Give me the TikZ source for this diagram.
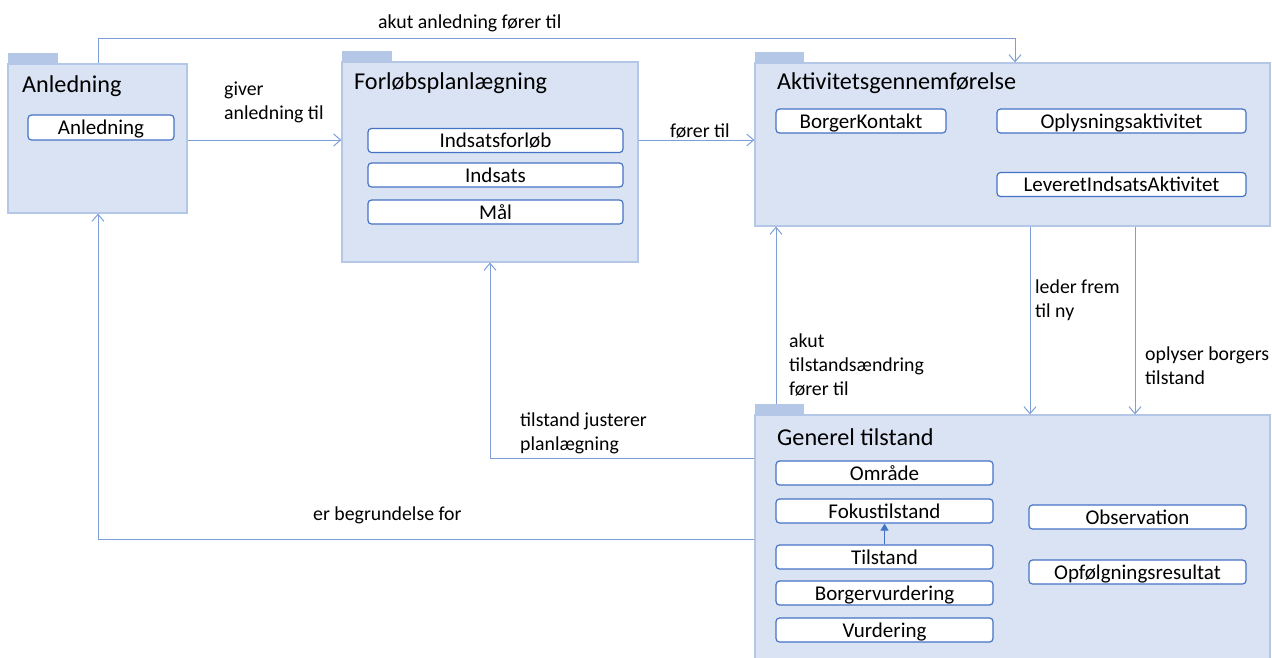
\documentclass[tikz,border=0pt]{standalone}
\usepackage{fontspec}
\setmainfont{Carlito}
\usetikzlibrary{arrows.meta}
\definecolor{pkgfill}{HTML}{DAE3F3}
\definecolor{pkgline}{HTML}{B4C7E7}
\definecolor{tabfill}{HTML}{B4C7E7}
\definecolor{boxline}{HTML}{4472C4}
\definecolor{conncol}{HTML}{7F9ED8}
\tikzset{
  pkgbody/.style={draw=pkgline, fill=pkgfill, line width=1.2pt, inner sep=0pt},
  pkgtab/.style={fill=tabfill, inner sep=0pt, minimum width=50pt, minimum height=11pt},
  pkgtitle/.style={anchor=west, inner sep=0pt, yshift=-1.5pt, font=\fontsize{24.2}{28}\selectfont},
  cls/.style={draw=boxline, fill=white, line width=1.2pt, rounded corners=3.5pt, inner sep=0pt, minimum height=24pt, text height=17.5pt, text depth=3pt, font=\fontsize{21}{24}\selectfont},
  conn/.style={draw=conncol, line width=1pt, -{Straight Barb[length=7pt,width=12pt]}},
  lbl/.style={anchor=west, align=left, inner sep=0pt, yshift=-1.5pt, font=\fontsize{19.8}{24}\selectfont},
}
\begin{document}
\begin{tikzpicture}[x=1pt,y=-1pt]
\clip (0,0) rectangle (1272,657);
\useasboundingbox (0,0) rectangle (1272,657);

% packages
\node[pkgtab] (anltab) at (33,58.5) {};
\node[pkgbody, minimum width=179pt, minimum height=149pt] (anl) at (97.5,138.5) {};
\node[pkgtab] (fortab) at (367,56.5) {};
\node[pkgbody, minimum width=296pt, minimum height=200pt] (for) at (490,162) {};
\node[pkgtab, minimum width=49pt] (akttab) at (779.5,57.5) {};
\node[pkgbody, minimum width=515pt, minimum height=163pt] (akt) at (1012.5,144.5) {};
\node[pkgtab, minimum width=49pt] (gentab) at (779.5,409.5) {};
\node[pkgbody, minimum width=515pt, minimum height=260pt] (gen) at (1012.5,545) {};

% titles
\node[pkgtitle] (anlT) at (22,85) {Anledning};
\node[pkgtitle] (forT) at (354,82) {Forløbsplanlægning};
\node[pkgtitle] (aktT) at (777,82) {Aktivitetsgennemførelse};
\node[pkgtitle] (genT) at (777,436) {Generel tilstand};

% classes
\node[cls, minimum width=146pt, minimum height=25pt] (c1) at (101,127.5) {Anledning};
\node[cls, minimum width=255pt] (c2) at (495.5,140.5) {Indsatsforløb};
\node[cls, minimum width=255pt] (c3) at (495.5,175) {Indsats};
\node[cls, minimum width=255pt] (c4) at (495.5,212) {Mål};
\node[cls, minimum width=170pt] (c5) at (861,121) {BorgerKontakt};
\node[cls, minimum width=249pt] (c6) at (1121.5,121) {Oplysningsaktivitet};
\node[cls, minimum width=249pt] (c7) at (1121.5,184.5) {LeveretIndsatsAktivitet};
\node[cls, minimum width=217pt] (g1) at (884.5,473) {Område};
\node[cls, minimum width=217pt] (g2) at (884.5,511) {Fokustilstand};
\node[cls, minimum width=217pt] (g3) at (884.5,557) {Tilstand};
\node[cls, minimum width=217pt] (g4) at (884.5,593) {Borgervurdering};
\node[cls, minimum width=217pt] (g5) at (884.5,630) {Vurdering};
\node[cls, minimum width=217pt] (g6) at (1137.5,517) {Observation};
\node[cls, minimum width=217pt] (g7) at (1137.5,572) {Opfølgningsresultat};

\draw[draw=boxline, line width=1pt, -{Triangle[length=7pt,width=8pt]}] (g3.north) -- (g2.south);

% helper coordinates
\coordinate (h1) at (0,140);
\coordinate (top) at (0,38);
\coordinate (x776) at (776,0);
\coordinate (x1030) at (1030,0);
\coordinate (x1135) at (1135,0);
\coordinate (y458) at (0,458);
\coordinate (y539) at (0,539);
\coordinate (x1015) at (1015,0);

% connectors
\draw[conn] (anl.north -| 98,0) |- (top -| x1015) -- (akt.north -| x1015);
\draw[conn] (anl.east |- h1) -- (for.west |- h1);
\draw[conn] (for.east |- h1) -- (akt.west |- h1);
\draw[conn] (gentab.north -| x776) -- (akt.south -| x776);
\draw[conn] (akt.south -| x1030) -- (gen.north -| x1030);
\draw[conn] (akt.south -| x1135) -- (gen.north -| x1135);
\draw[conn] (gen.west |- y458) -| (for.south);
\draw[conn] (gen.west |- y539) -| (anl.south -| 98,0);

% labels
\node[lbl] (l1) at (378,22) {akut anledning fører til};
\node[lbl] (l2) at (224,100.5) {giver\\anledning til};
\node[lbl] (l3) at (670,129) {fører til};
\node[lbl] (l4) at (789,363) {akut\\tilstandsændring\\fører til};
\node[lbl] (l5) at (1035,299) {leder frem\\til ny};
\node[lbl] (l6) at (1145,364) {oplyser borgers\\tilstand};
\node[lbl] (l7) at (520,432) {tilstand justerer\\planlægning};
\node[lbl] (l8) at (313,514) {er begrundelse for};
\end{tikzpicture}
\end{document}
